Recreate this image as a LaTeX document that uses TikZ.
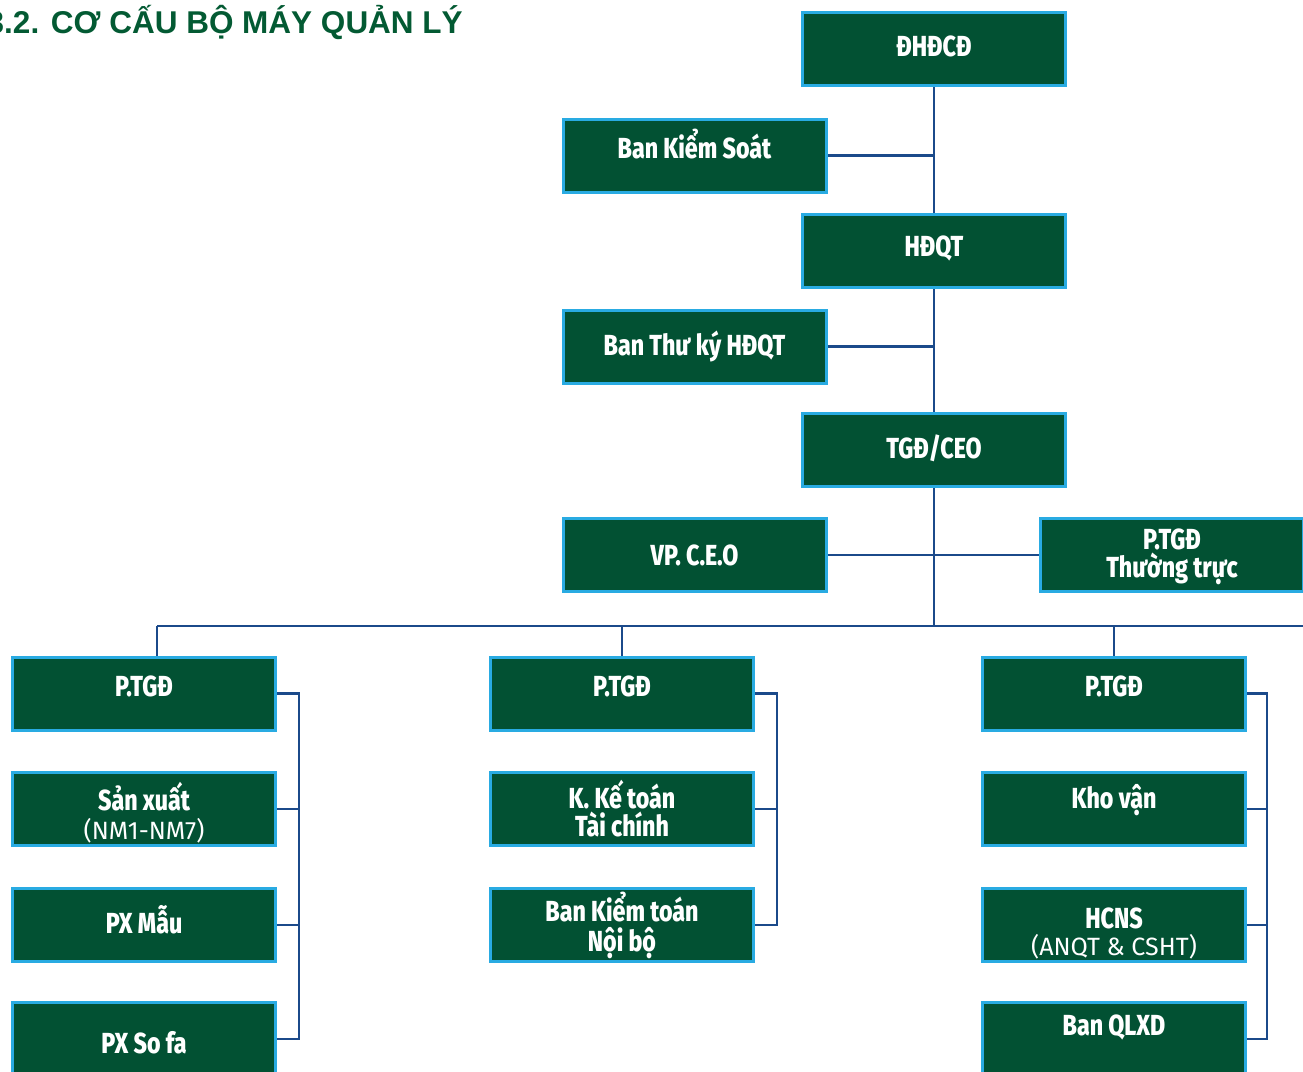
\documentclass[tikz,border=0pt]{standalone}
\usepackage{fontspec}
\setmainfont{Liberation Sans}
\newfontfamily\titlefont{Liberation Sans Bold}
\newfontfamily\bx[FakeStretch=0.80]{Fira Sans ExtraBold}
\newfontfamily\rg[FakeStretch=1.0]{Fira Sans}
\definecolor{boxgreen}{HTML}{025133}
\definecolor{boxcyan}{HTML}{29ABE2}
\definecolor{linkblue}{HTML}{1B4A8A}
\definecolor{titlegreen}{HTML}{035A33}
\pgfdeclarelayer{bg}
\pgfsetlayers{bg,main}
\tikzset{
  orgbox/.style={draw=boxcyan, line width=3pt, fill=boxgreen, text=white,
    minimum width=263pt, minimum height=73pt, inner sep=0pt, align=center,
    font=\bx\fontsize{29}{28}\selectfont},
  th/.style={text height=#1},
  td/.style={text depth=#1},
  link/.style={draw=linkblue, line width=2.2pt}
}
\newcommand{\subtxt}[1]{{\rg\fontsize{25}{26}\selectfont #1}}
\begin{document}
\begin{tikzpicture}[x=1pt,y=-1pt]
\useasboundingbox (0,0) rectangle (1303,1071);
\clip (0,0) rectangle (1303,1071);
\node[anchor=base east, inner sep=0pt, text=titlegreen,
  font=\titlefont\fontsize{31.5}{31.5}\selectfont] (title) at (463,33) {3.2. CƠ CẤU BỘ MÁY QUẢN LÝ};
% top chain
\node[orgbox, th=20pt, td=6pt] (dhdcd) at (934,49) {ĐHĐCĐ};
\node[orgbox, th=20pt, td=15pt] (bks) at (694.5,155.5) {Ban Kiểm Soát};
\node[orgbox, th=20pt, td=10pt] (hdqt) at (934,251) {HĐQT};
\node[orgbox, th=20pt, td=2pt] (btk) at (694.5,346.5) {Ban Thư ký HĐQT};
\node[orgbox, th=20pt, td=4pt] (ceo) at (934,450) {TGĐ/CEO};
\node[orgbox, th=20pt, td=0pt] (vp) at (694.5,555) {VP. C.E.O};
\node[orgbox, th=44pt, td=0pt] (ptt) at (1172,555) {P.TGĐ\\Thường trực};
\coordinate (bar) at (934,626);
\coordinate (barL) at (157,626);
\coordinate (barR) at (1310,626);
% left column
\node[orgbox, th=20pt, td=14pt] (l1) at (144,693.5) {P.TGĐ};
\node[orgbox, th=61pt, td=0pt] (l2) at (144,809) {Sản xuất\\[1pt]\subtxt{(NM1-NM7)}};
\node[orgbox, th=20pt, td=4pt] (l3) at (144,925) {PX Mẫu};
\node[orgbox, th=28pt, td=0pt] (l4) at (144,1039) {PX So fa};
% middle column
\node[orgbox] (m2) at (622,809) {K. Kế toán\\Tài chính};
\node[orgbox, th=20pt, td=14pt] (m1) at (622,693.5) {P.TGĐ};
\node[orgbox] (m3) at (622,925) {Ban Kiểm toán\\[2pt]Nội bộ};
% right column
\node[orgbox, th=20pt, td=14pt] (r1) at (1114,693.5) {P.TGĐ};
\node[orgbox, th=20pt, td=22pt] (r2) at (1114,809) {Kho vận};
\node[orgbox, th=60pt, td=0pt] (r3) at (1114,925) {HCNS\\[-1pt]\subtxt{(ANQT \& CSHT)}};
\node[orgbox, th=20pt, td=28pt] (r4) at (1114,1039) {Ban QLXD};
\coordinate (bl) at (299,0);
\coordinate (bm) at (777,0);
\coordinate (br) at (1267,0);
\begin{pgfonlayer}{bg}
\draw[link] (dhdcd.south) -- (hdqt.north);
\draw[link] (hdqt.south) -- (ceo.north);
\draw[link] (ceo.south) -- (bar);
\draw[link] (bks.east) -- (bks.east -| dhdcd.south);
\draw[link] (btk.east) -- (btk.east -| hdqt.south);
\draw[link] (vp.east) -- (vp.east -| ptt.west);
\draw[link] (barL) -- (barR);
\draw[link] (barL) -- (barL |- l1.north);
\draw[link] (m1.north |- bar) -- (m1.north);
\draw[link] (r1.north |- bar) -- (r1.north);
% brackets
\draw[link] (l1.east) -- (l1.east -| bl) -- (l4.east -| bl) -- (l4.east);
\draw[link] (l2.east) -- (l2.east -| bl);
\draw[link] (l3.east) -- (l3.east -| bl);
\draw[link] (m1.east) -- (m1.east -| bm) -- (m3.east -| bm) -- (m3.east);
\draw[link] (m2.east) -- (m2.east -| bm);
\draw[link] (r1.east) -- (r1.east -| br) -- (r4.east -| br) -- (r4.east);
\draw[link] (r2.east) -- (r2.east -| br);
\draw[link] (r3.east) -- (r3.east -| br);
\end{pgfonlayer}
\end{tikzpicture}
\end{document}
